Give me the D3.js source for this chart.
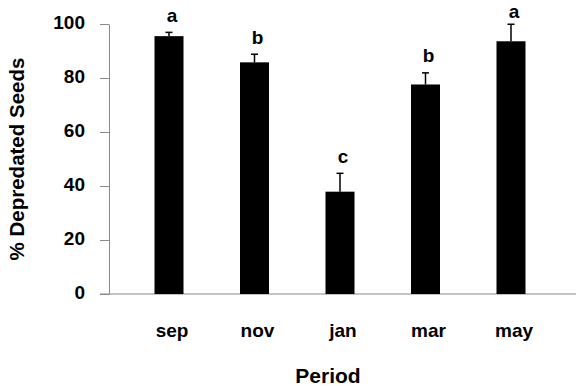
<!DOCTYPE html>
<html>
<head>
<meta charset="utf-8">
<script src="https://cdn.jsdelivr.net/npm/d3@7"></script>
<style>
  html, body { margin: 0; padding: 0; background: #fff; }
  svg { display: block; }
  text { font-family: Arial, "Liberation Sans", sans-serif; font-weight: bold; fill: #000; }
</style>
</head>
<body>
<svg id="chart" width="576" height="386"></svg>
<script>
const categories = ["sep", "nov", "jan", "mar", "may"];
const values = [95.5, 85.8, 37.9, 77.6, 93.6];
const errors = [1.4, 3.0, 6.8, 4.3, 6.3];
const letters = ["a", "b", "c", "b", "a"];
const yTicks = [0, 20, 40, 60, 80, 100];

const svg = d3.select("#chart");
const y = d3.scaleLinear().domain([0, 100]).range([294, 24]);
const x = d3.scalePoint().domain(categories).range([169, 511]);
const barW = 29;
const axisColor = "#8a8a8a";

// y axis
const yAxis = svg.append("g").attr("transform", "translate(109,0)")
  .call(d3.axisLeft(y).tickValues(yTicks).tickSize(9).tickPadding(15).tickSizeOuter(0));
yAxis.select(".domain").attr("stroke", axisColor);
yAxis.selectAll(".tick line").attr("stroke", axisColor);
yAxis.selectAll(".tick text")
  .style("font-family", "Arial, 'Liberation Sans', sans-serif")
  .style("font-weight", "bold").style("font-size", "19px").attr("fill", "#000")
  .attr("dy", "0.22em");

// x axis line
svg.append("line").attr("x1", 100).attr("x2", 576).attr("y1", y(0)).attr("y2", y(0))
  .attr("stroke", axisColor).attr("stroke-width", 1);

// bars
svg.selectAll("rect.bar").data(categories).enter().append("rect")
  .attr("class", "bar")
  .attr("x", d => x(d) - barW / 2)
  .attr("width", barW)
  .attr("y", (d, i) => y(values[i]))
  .attr("height", (d, i) => y(0) - y(values[i]))
  .attr("fill", "#000");

// error bars
const eg = svg.selectAll("g.err").data(categories).enter().append("g").attr("class", "err");
eg.append("line")
  .attr("x1", d => x(d)).attr("x2", d => x(d))
  .attr("y1", (d, i) => y(values[i])).attr("y2", (d, i) => y(values[i] + errors[i]))
  .attr("stroke", "#000").attr("stroke-width", 1.5);
eg.append("line")
  .attr("x1", d => x(d) - 3.5).attr("x2", d => x(d) + 3.5)
  .attr("y1", (d, i) => y(values[i] + errors[i])).attr("y2", (d, i) => y(values[i] + errors[i]))
  .attr("stroke", "#000").attr("stroke-width", 1.5);

// letters (kept inside the picture's top edge)
svg.selectAll("text.sig").data(categories).enter().append("text")
  .attr("class", "sig")
  .attr("x", d => x(d) + 3)
  .attr("y", (d, i) => Math.max(y(values[i] + errors[i]) - 10.5, 17.5))
  .attr("text-anchor", "middle")
  .style("font-size", "19px")
  .text((d, i) => letters[i]);

// category labels
svg.selectAll("text.cat").data(categories).enter().append("text")
  .attr("class", "cat")
  .attr("x", d => x(d) + 3)
  .attr("y", 337)
  .attr("text-anchor", "middle")
  .style("font-size", "19px")
  .text(d => d);

// axis titles
svg.append("text").attr("x", 328).attr("y", 383).attr("text-anchor", "middle")
  .style("font-size", "21px").text("Period");
svg.append("text").attr("transform", "translate(24,159) rotate(-90)")
  .attr("text-anchor", "middle").style("font-size", "20.5px").text("% Depredated Seeds");
</script>
</body>
</html>
